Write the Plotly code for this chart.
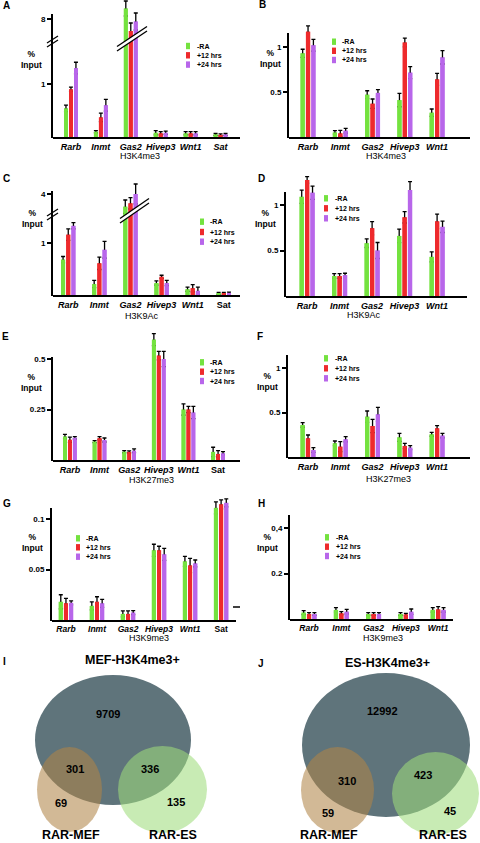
import plotly.graph_objects as go

W, H = 480, 843
def PX(x): return x / W
def PY(y): return 1 - y / H

FONT = "Liberation Sans, Arial, Helvetica, sans-serif"

# ---------------- data ----------------
SERIES = ["-RA", "+12 hrs", "+24 hrs"]
COLORS = ["#74e23f", "#ee2a2c", "#b866ea"]

GENES_6 = ["Rarb", "Inmt", "Gas2", "Hivep3", "Wnt1", "Sat"]
GENES_5 = ["Rarb", "Inmt", "Gas2", "Hivep3", "Wnt1"]

A_VALUES = [[0.54, 0.10, 9.05, 0.08, 0.07, 0.05],
            [0.90, 0.37, 6.80, 0.07, 0.07, 0.04],
            [1.30, 0.60, 7.75, 0.08, 0.07, 0.05]]
A_ERRORS = [[0.06, 0.02, 0.75, 0.04, 0.03, 0.02],
            [0.04, 0.08, 0.80, 0.03, 0.03, 0.02],
            [0.11, 0.11, 0.85, 0.03, 0.03, 0.02]]

B_VALUES = [[0.93, 0.05, 0.47, 0.41, 0.27],
            [1.17, 0.04, 0.37, 1.05, 0.64],
            [1.02, 0.07, 0.49, 0.715, 0.885]]
B_ERRORS = [[0.045, 0.02, 0.044, 0.074, 0.041],
            [0.065, 0.033, 0.052, 0.048, 0.067],
            [0.065, 0.026, 0.037, 0.066, 0.074]]

C_VALUES = [[0.68, 0.21, 2.82, 0.23, 0.11, 0.03],
            [1.16, 0.61, 3.14, 0.35, 0.13, 0.03],
            [1.33, 0.87, 4.03, 0.23, 0.08, 0.04]]
C_ERRORS = [[0.06, 0.07, 0.64, 0.04, 0.04, 0.02],
            [0.11, 0.12, 0.54, 0.03, 0.07, 0.02],
            [0.06, 0.16, 0.95, 0.05, 0.07, 0.015]]

D_VALUES = [[1.09, 0.22, 0.58, 0.66, 0.43],
            [1.275, 0.22, 0.745, 0.865, 0.82],
            [1.135, 0.23, 0.50, 1.165, 0.76]]
D_ERRORS = [[0.073, 0.025, 0.047, 0.074, 0.055],
            [0.036, 0.025, 0.073, 0.063, 0.08],
            [0.073, 0.02, 0.088, 0.091, 0.062]]

E_VALUES = [[0.116, 0.091, 0.041, 0.596, 0.25, 0.04],
            [0.10, 0.108, 0.04, 0.517, 0.25, 0.03],
            [0.11, 0.099, 0.046, 0.50, 0.235, 0.033]]
E_ERRORS = [[0.011, 0.005, 0.005, 0.03, 0.028, 0.023],
            [0.013, 0.008, 0.005, 0.021, 0.015, 0.016],
            [0.006, 0.01, 0.009, 0.038, 0.03, 0.008]]

F_VALUES = [[0.36, 0.154, 0.453, 0.221, 0.255],
            [0.21, 0.116, 0.348, 0.124, 0.322],
            [0.079, 0.199, 0.479, 0.105, 0.24]]
F_ERRORS = [[0.026, 0.026, 0.064, 0.045, 0.022],
            [0.037, 0.056, 0.075, 0.03, 0.03],
            [0.026, 0.029, 0.079, 0.022, 0.026]]

G_VALUES = [[0.018, 0.014, 0.006, 0.069, 0.058, 0.111],
            [0.0165, 0.018, 0.006, 0.069, 0.054, 0.1145],
            [0.017, 0.0165, 0.0073, 0.065, 0.056, 0.116]]
G_ERRORS = [[0.007, 0.004, 0.003, 0.006, 0.005, 0.006],
            [0.005, 0.005, 0.003, 0.004, 0.007, 0.0045],
            [0.002, 0.004, 0.002, 0.006, 0.0034, 0.004]]

H_VALUES = [[0.028, 0.04, 0.022, 0.022, 0.04],
            [0.022, 0.025, 0.022, 0.02, 0.042],
            [0.022, 0.032, 0.022, 0.032, 0.04]]
H_ERRORS = [[0.009, 0.01, 0.006, 0.006, 0.01],
            [0.006, 0.007, 0.006, 0.005, 0.012],
            [0.006, 0.01, 0.006, 0.012, 0.01]]

MARKS = ["H3K4me3", "H3K4me3", "H3K9Ac", "H3K9Ac", "H3K27me3", "H3K27me3", "H3K9me3", "H3K9me3"]

I_SETS = ["MEF-H3K4me3+", "RAR-MEF", "RAR-ES"]
I_COUNTS = [9709, 301, 336, 69, 135]
J_SETS = ["ES-H3K4me3+", "RAR-MEF", "RAR-ES"]
J_COUNTS = [12992, 310, 423, 59, 45]

# ---------------- figure ----------------
fig = go.Figure()
layout_axes = {}
shapes = []
annotations = []
count = [0]


def text(x, y, s, size=8, bold=True, xanchor="center", italic=False):
    t = s
    if italic:
        t = "<i>" + t + "</i>"
    if bold:
        t = "<b>" + t + "</b>"
    annotations.append(dict(x=PX(x), y=PY(y), xref="paper", yref="paper", text=t, showarrow=False,
                            xanchor=xanchor, yanchor="middle", align="center",
                            font=dict(family=FONT, size=size, color="black")))


def line(x0, y0, x1, y1, color="black", width=1.3):
    shapes.append(dict(type="line", xref="paper", yref="paper", x0=PX(x0), y0=PY(y0), x1=PX(x1), y1=PY(y1),
                       line=dict(color=color, width=width), layer="above"))


def new_axes(x_px, base_px, top_px, bottom_val, px_per_unit, x_range, genes, ytv, ytt,
             show_x=True, label_size=9, sat_italic=True):
    """Axes whose y domain runs from base_px (value bottom_val) up to top_px at px_per_unit."""
    count[0] += 1
    k = count[0]
    sfx = "" if k == 1 else str(k)
    labels = []
    for g in genes:
        if g == "Sat" and not sat_italic:
            labels.append("<b>" + g + "</b>")
        else:
            labels.append("<b><i>" + g + "</i></b>")
    layout_axes["xaxis" + sfx] = dict(
        domain=[PX(x_px[0]), PX(x_px[1])], anchor="y" + sfx, type="category",
        categoryorder="array", categoryarray=genes, range=list(x_range), visible=show_x,
        showline=True, linecolor="black", linewidth=2, ticks="", tickmode="array",
        tickvals=genes, ticktext=labels, tickfont=dict(family=FONT, size=label_size, color="black"),
        showgrid=False, zeroline=False, fixedrange=True)
    top_val = bottom_val + (base_px - top_px) / px_per_unit
    layout_axes["yaxis" + sfx] = dict(
        domain=[PY(base_px), PY(top_px)], anchor="x" + sfx, range=[bottom_val, top_val],
        showline=False, ticks="outside", ticklen=5, tickwidth=1.5,
        tickcolor="black", tickmode="array", tickvals=ytv, ticktext=ytt,
        tickfont=dict(family=FONT, size=8, color="black", weight="bold"),
        showgrid=False, zeroline=False, fixedrange=True)
    return "x" + sfx, "y" + sfx


def add_bars(xa, ya, genes, values, errors):
    # first layer carries the error bars; second identical layer hides their lower half
    for layer in range(2):
        for i in range(3):
            kw = dict(x=genes, y=values[i], name=SERIES[i], offsetgroup=str(i),
                      marker=dict(color=COLORS[i], line=dict(width=0)),
                      xaxis=xa, yaxis=ya, showlegend=False, hoverinfo="skip")
            if layer == 0:
                kw["error_y"] = dict(type="data", array=errors[i], symmetric=True,
                                     color="black", thickness=1.3, width=2)
            fig.add_trace(go.Bar(**kw))


def y_axis_line(x, y0, y1):
    line(x - 1, y0 + 1, x - 1, y1, width=2)


def legend(sq_x, rows, text_x):
    for i, ry in enumerate(rows):
        shapes.append(dict(type="rect", xref="paper", yref="paper", x0=PX(sq_x - 2), x1=PX(sq_x + 2),
                           y0=PY(ry + 3.2), y1=PY(ry - 3.2), fillcolor=COLORS[i], line=dict(width=0)))
        text(text_x, ry, SERIES[i], size=7, xanchor="left")


def decorate(letter, lpos, inp, sub, legend_args):
    text(lpos[0], lpos[1], letter, size=10, xanchor="left")
    text(inp[0], inp[1], "%<br>Input", size=8.5)
    text(sub[0], sub[1] + 1, sub[2], size=9, bold=False)
    legend(*legend_args)


def break_marks(ax_x, ay, gx0, gy0, gx1, gy1):
    line(ax_x - 6, ay + 5, ax_x + 5, ay - 2)
    line(ax_x - 6, ay + 1, ax_x + 5, ay - 6)
    line(gx0, gy0 - 2, gx1, gy1 - 2, color="white", width=3.5)
    line(gx0, gy0, gx1, gy1)
    line(gx0, gy0 - 4.5, gx1, gy1 - 4.5)


# ---- Panel A (broken axis) ----
xa, ya = new_axes((53, 240), 137, 42, 0, 53, (-0.6, 5.65), GENES_6, [1], ["1"])
add_bars(xa, ya, GENES_6, A_VALUES, A_ERRORS)
xa, ya = new_axes((53, 240), 42, 0, 5.7, 10, (-0.6, 5.65), GENES_6, [8], ["8"], show_x=False)
add_bars(xa, ya, GENES_6, A_VALUES, A_ERRORS)
y_axis_line(53, 137, 14)
decorate("A", (1, 6), (31, 59), (140, 155, MARKS[0]), (188, [46, 55.3, 64.6], 195))
break_marks(53, 42, 117, 51, 147, 31)

# ---- Panel B ----
xa, ya = new_axes((289, 470), 137, 15, 0, 90, (-0.59, 5.02), GENES_5, [0.5, 1], ["0.5", "1"])
add_bars(xa, ya, GENES_5, B_VALUES, B_ERRORS)
y_axis_line(289, 137, 33)
decorate("B", (257, 5), (270, 58.5), (386, 155, MARKS[1]), (334, [41.7, 50.8, 60], 340))

# ---- Panel C (broken axis) ----
xa, ya = new_axes((53, 240), 295, 215, 0, 52, (-0.49, 5.52), GENES_6, [1], ["1"], sat_italic=False)
add_bars(xa, ya, GENES_6, C_VALUES, C_ERRORS)
xa, ya = new_axes((53, 240), 215, 176, 2.03, 10.5, (-0.49, 5.52), GENES_6, [4], ["4"], show_x=False)
add_bars(xa, ya, GENES_6, C_VALUES, C_ERRORS)
y_axis_line(53, 295, 191)
decorate("C", (1, 179), (32, 218), (142, 315, MARKS[2]), (202, [221.7, 232, 241.7], 208))
break_marks(53, 215, 120, 223, 149, 203)

# ---- Panel D ----
xa, ya = new_axes((286, 467), 296, 170, 0, 91, (-0.65, 4.92), GENES_5, [0.5, 1], ["0.5", "1"])
add_bars(xa, ya, GENES_5, D_VALUES, D_ERRORS)
y_axis_line(286, 296, 192)
decorate("D", (256, 178), (265, 218.7), (364, 314, MARKS[3]), (326, [198.3, 208.3, 218.3], 333))

# ---- Panel E ----
xa, ya = new_axes((53, 240), 460, 328, 0, 202, (-0.57, 5.74), GENES_6, [0.25, 0.5], ["0.25", "0.5"],
                  sat_italic=False)
add_bars(xa, ya, GENES_6, E_VALUES, E_ERRORS)
y_axis_line(53, 460, 357)
decorate("E", (0, 337), (31, 382), (151, 478.5, MARKS[4]), (202, [362.3, 371.7, 381], 208))

# ---- Panel F ----
xa, ya = new_axes((288, 470), 457, 340, 0, 89, (-0.62, 5.02), GENES_5, [0.5, 1], ["0.5", "1"])
add_bars(xa, ya, GENES_5, F_VALUES, F_ERRORS)
y_axis_line(288, 457, 355)
decorate("F", (255, 337), (267, 381), (388, 478, MARKS[5]), (326, [358.3, 368.3, 378.3], 333))

# ---- Panel G ----
xa, ya = new_axes((52, 236), 620, 492, 0, 1010, (-0.45, 5.48), GENES_6, [0.05, 0.1], ["0.05", "0.1"],
                  label_size=8.5, sat_italic=False)
add_bars(xa, ya, GENES_6, G_VALUES, G_ERRORS)
y_axis_line(52, 620, 508)
decorate("G", (1, 503), (32, 542), (149, 637, MARKS[6]), (78, [538.3, 547.3, 556.7], 84))
line(233, 607, 240, 607, width=1.5)

# ---- Panel H ----
xa, ya = new_axes((290, 453), 619, 505, 0, 227.5, (-0.59, 4.46), GENES_5, [0.2, 0.4], ["0.2", "0,4"],
                  label_size=8.5)
add_bars(xa, ya, GENES_5, H_VALUES, H_ERRORS)
y_axis_line(290, 619, 515)
decorate("H", (256, 503), (267, 542), (383, 637, MARKS[7]), (327, [537.3, 546.7, 556], 334))


# ---- Venn diagrams ----
def ellipse(x0, x1, y0, y1, color, opacity=1.0):
    shapes.append(dict(type="circle", xref="paper", yref="paper", x0=PX(x0), x1=PX(x1),
                       y0=PY(y1), y1=PY(y0), fillcolor=color, opacity=opacity, line=dict(width=0),
                       layer="below"))


BIG = "#5f747b"
TAN = "rgb(176,132,71)"
LGREEN = "rgb(158,220,123)"
VA = 0.57

ellipse(35, 191, 675, 805, BIG)
ellipse(37, 102, 747, 832, TAN, VA)
ellipse(118, 207, 746, 833, LGREEN, VA)
text(1, 661, "I", size=10, xanchor="left")
text(132, 660, I_SETS[0], size=12.5)
text(108, 714, str(I_COUNTS[0]), size=11)
text(75, 769, str(I_COUNTS[1]), size=11)
text(150, 769, str(I_COUNTS[2]), size=11)
text(61, 803, str(I_COUNTS[3]), size=11)
text(176, 802, str(I_COUNTS[4]), size=11)
text(71, 835, I_SETS[1], size=12.5)
text(173, 835, I_SETS[2], size=12.5)

ellipse(302, 470, 673, 817, BIG)
ellipse(301, 374, 747, 833, TAN, VA)
ellipse(392, 479, 752, 835, LGREEN, VA)
text(256, 663, "J", size=10, xanchor="left")
text(387, 663, J_SETS[0], size=12.5)
text(382, 711, str(J_COUNTS[0]), size=11)
text(347, 781, str(J_COUNTS[1]), size=11)
text(423, 775, str(J_COUNTS[2]), size=11)
text(328, 813, str(J_COUNTS[3]), size=11)
text(450, 811, str(J_COUNTS[4]), size=11)
text(329, 835, J_SETS[1], size=12.5)
text(443, 835, J_SETS[2], size=12.5)

fig.update_layout(
    width=W, height=H, autosize=False,
    margin=dict(l=0, r=0, t=0, b=0),
    paper_bgcolor="white", plot_bgcolor="rgba(0,0,0,0)",
    barmode="group", bargap=0.5, bargroupgap=0.22,
    showlegend=False,
    font=dict(family=FONT, color="black"),
    shapes=shapes, annotations=annotations,
    **layout_axes)

fig.write_html("out.html", config={"displayModeBar": False},
               post_script="document.body.style.margin='0';document.body.style.overflow='hidden';")
